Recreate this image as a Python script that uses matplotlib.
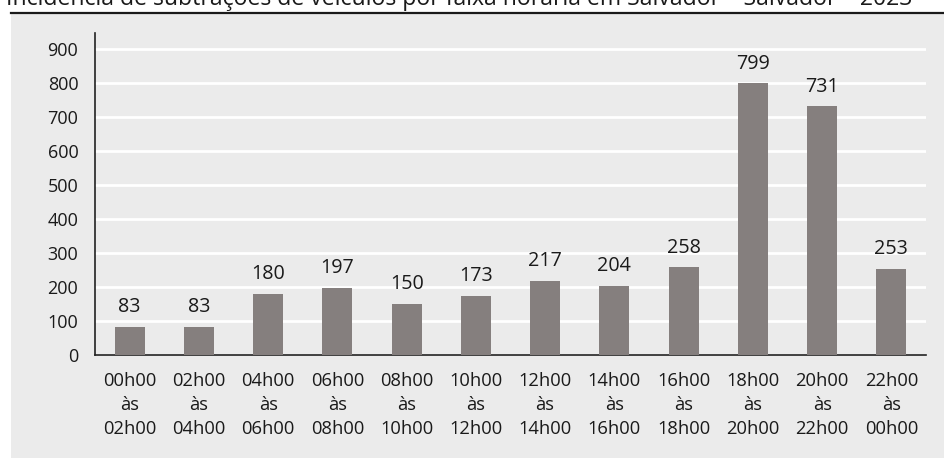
import matplotlib
matplotlib.use("Agg")
import matplotlib.pyplot as plt
from matplotlib.patches import Rectangle
from matplotlib.lines import Line2D

title = "Incidência de subtrações de veículos por faixa horária em Salvador – Salvador – 2023"
categories = ["00h00\nàs\n02h00", "02h00\nàs\n04h00", "04h00\nàs\n06h00", "06h00\nàs\n08h00",
              "08h00\nàs\n10h00", "10h00\nàs\n12h00", "12h00\nàs\n14h00", "14h00\nàs\n16h00",
              "16h00\nàs\n18h00", "18h00\nàs\n20h00", "20h00\nàs\n22h00", "22h00\nàs\n00h00"]
values = [83, 83, 180, 197, 150, 173, 217, 204, 258, 799, 731, 253]
yticks = [0, 100, 200, 300, 400, 500, 600, 700, 800, 900]

plt.rcParams['font.family'] = ['Open Sans', 'DejaVu Sans']
W, H = 944, 459
fig = plt.figure(figsize=(W / 100, H / 100), dpi=100)
fig.patch.set_facecolor('white')
bg = '#ebebeb'
fig.patches.append(Rectangle((11 / W, 1 / H), 1 - 11 / W, (458 - 14) / H, transform=fig.transFigure,
                             facecolor=bg, edgecolor='none', zorder=-5))
fig.lines.append(Line2D([11 / W, 1], [1 - 13 / H, 1 - 13 / H], transform=fig.transFigure,
                        color='#1a1a1a', lw=1.6, zorder=-4))
fig.text(459 / W, 1 - 5 / H, title, ha='center', va='baseline', fontsize=16.6, color='#1a1a1a')

ax = fig.add_axes([95 / W, (H - 355) / H, (926 - 95) / W, (355 - 33) / H])
ax.set_zorder(2)
ax.set_facecolor(bg)
x = list(range(len(values)))
bars = ax.bar(x, values, width=0.43, color='#857f7e', zorder=3)
ax.set_xlim(-0.5, len(values) - 0.5)
ax.set_ylim(0, 947)
ax.set_yticks(yticks)
ax.set_yticklabels([str(t) for t in yticks], fontsize=13, color='#1a1a1a')
ax.set_xticks(x)
ax.set_xticklabels(categories, fontsize=13.2, color='#1a1a1a', linespacing=1.44)
ax.tick_params(length=0)
ax.tick_params(axis='y', pad=12)
ax.tick_params(axis='x', pad=12)
ax.grid(axis='y', color='white', lw=2, zorder=1)
ax.set_axisbelow(True)
for s in ['top', 'right']:
    ax.spines[s].set_visible(False)
ax.spines['left'].set_color('#222222')
ax.spines['bottom'].set_color('#222222')
ax.spines['left'].set_linewidth(1.2)
ax.spines['bottom'].set_linewidth(1.2)
for b, v in zip(bars, values):
    ax.annotate(str(v), (b.get_x() + b.get_width() / 2, v), xytext=(0, 7), textcoords='offset points',
                ha='center', va='bottom', fontsize=14.2, color='#1a1a1a')

fig.savefig('out.png', dpi=100)
